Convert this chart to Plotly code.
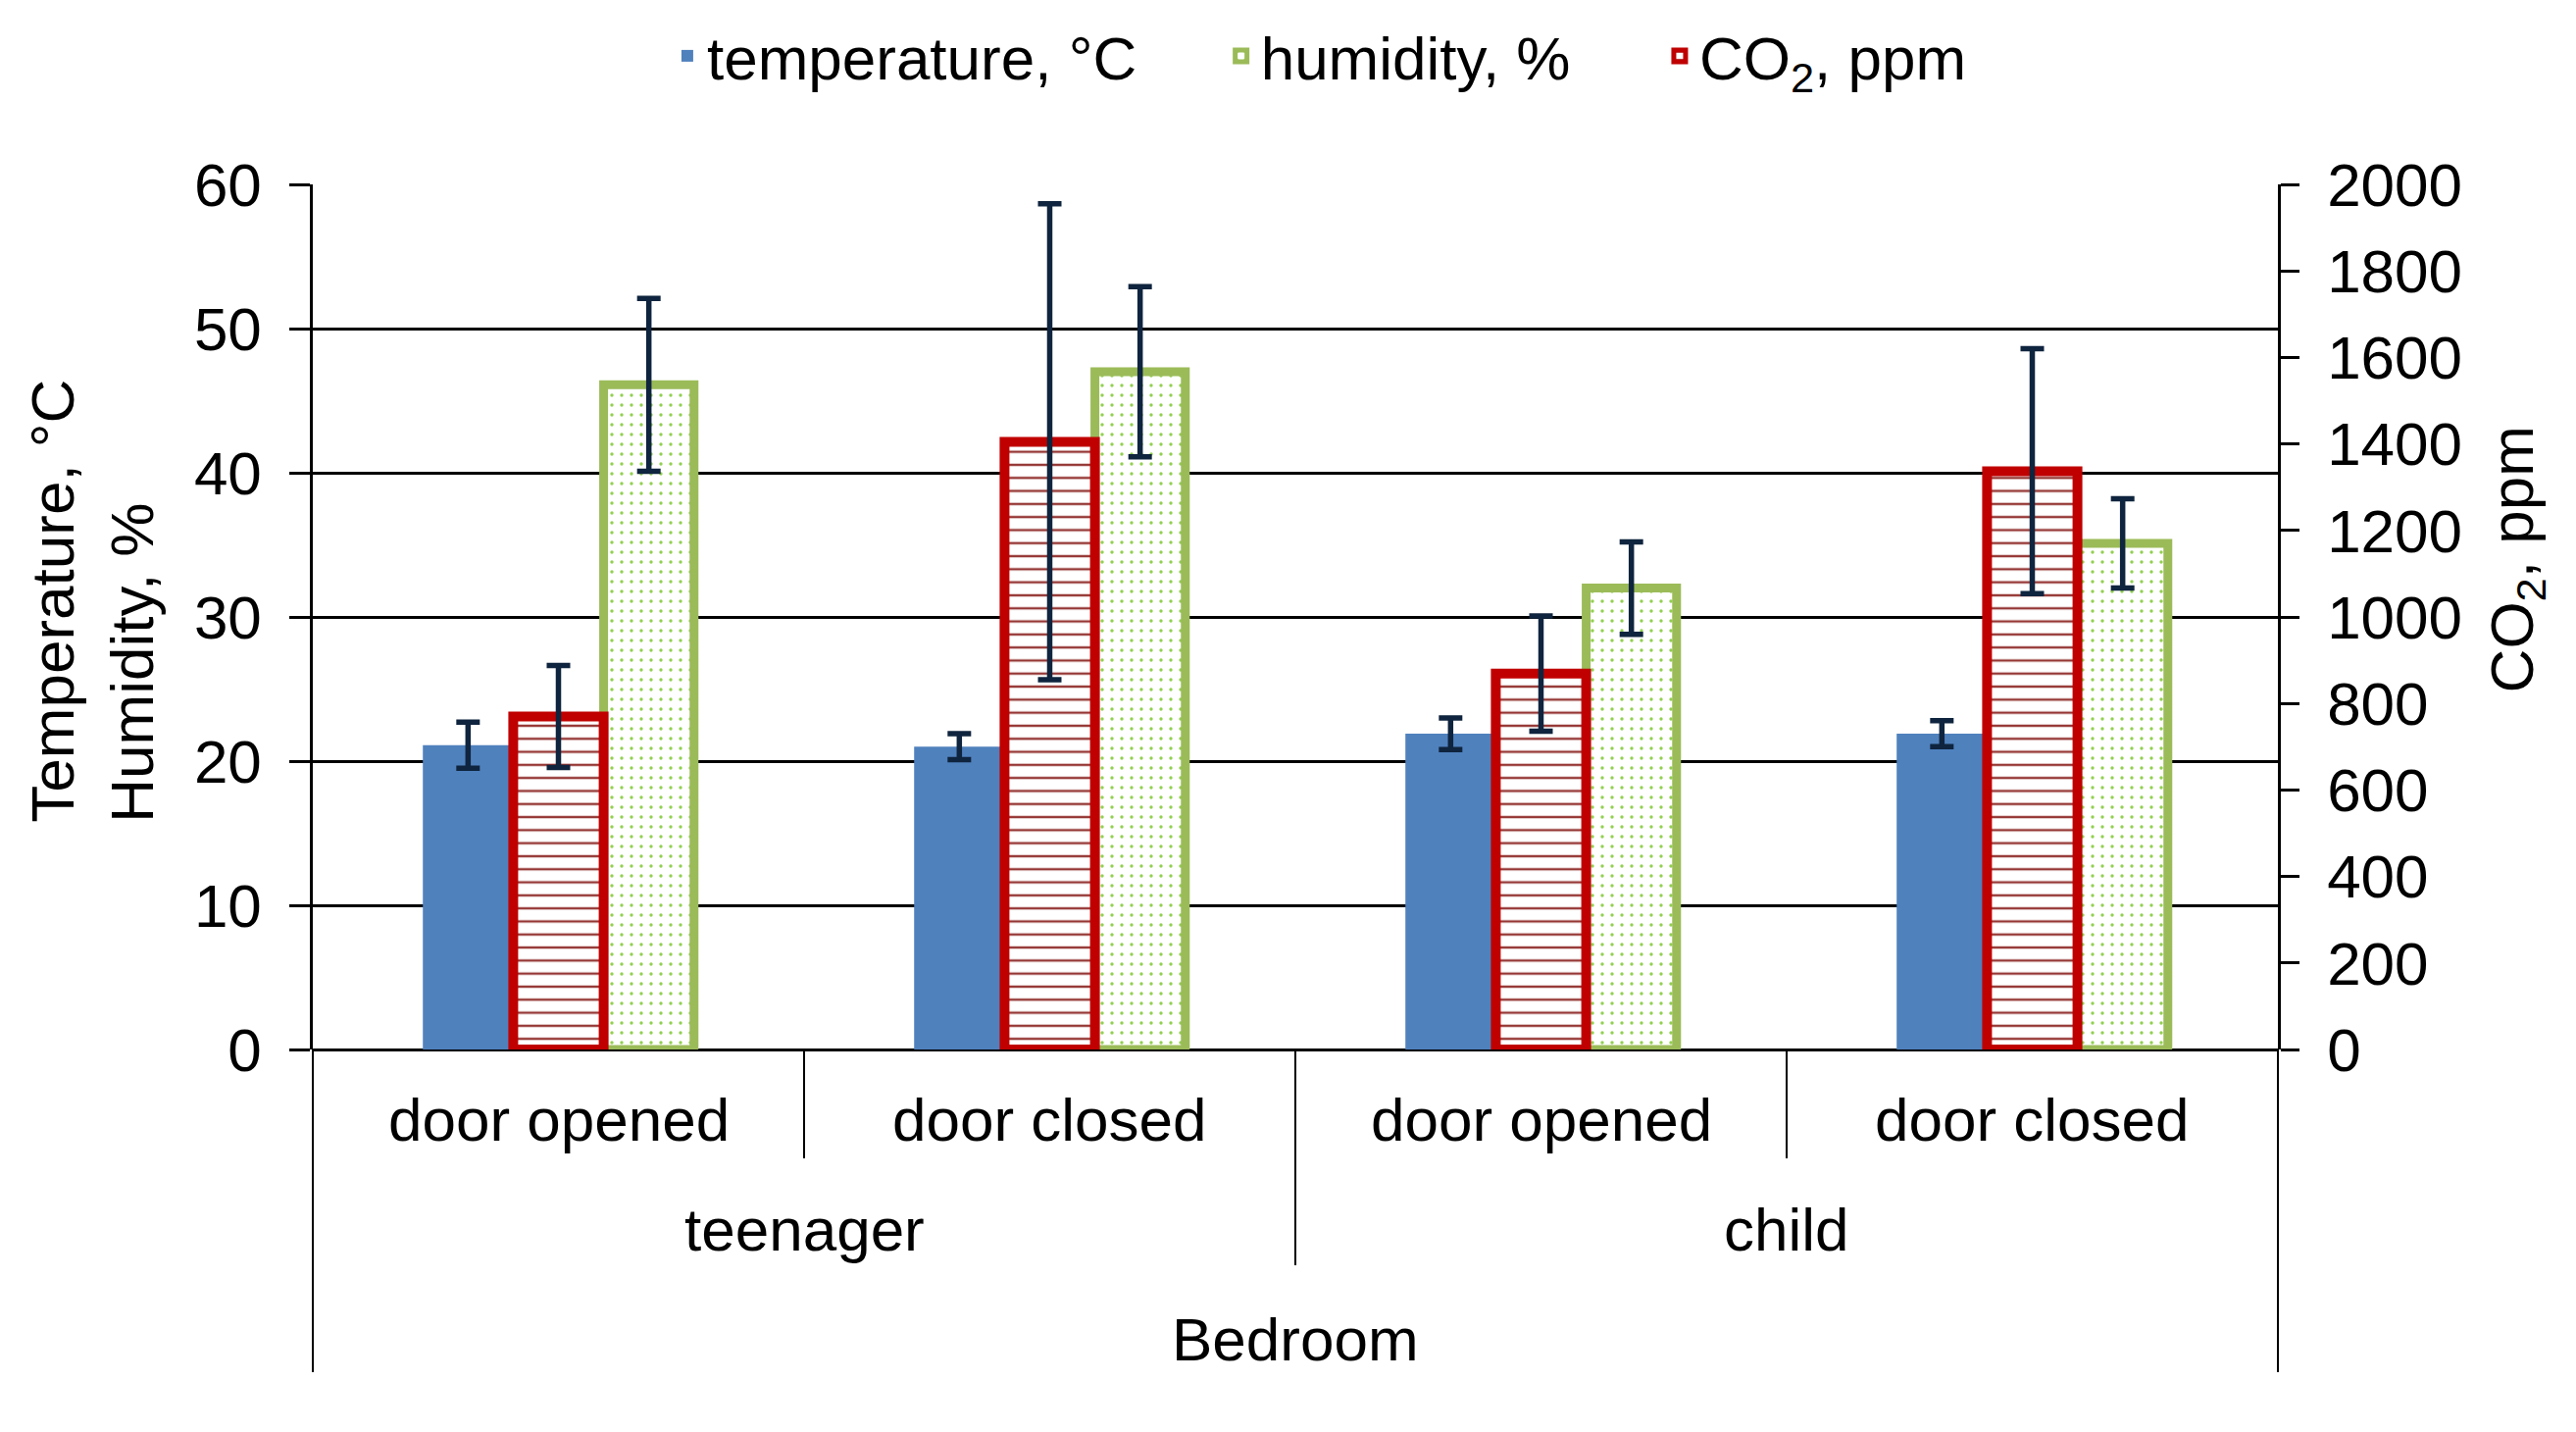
import plotly.graph_objects as go

# ---- data ----
groups = ["teenager", "teenager", "child", "child"]
doors = ["door opened", "door closed", "door opened", "door closed"]
outer_labels = ["teenager", "child"]
room_label = "Bedroom"

temperature = [21.1, 21.0, 21.9, 21.9]
temperature_err = [1.6, 0.9, 1.1, 0.9]
humidity = [46.1, 47.0, 32.0, 35.1]
humidity_err = [6.0, 5.9, 3.2, 3.1]
co2 = [770, 1405, 869, 1337]
co2_err = [118, 550, 133, 283]

left_ticks = [0, 10, 20, 30, 40, 50, 60]
right_ticks = [0, 200, 400, 600, 800, 1000, 1200, 1400, 1600, 1800, 2000]

FONT = "Liberation Sans, Arial, sans-serif"
FS = 62
ERRC = "#0F243E"
BW = 0.184
ERR_T = 5.5
ERR_W = 12

x = [groups, doors]

fig = go.Figure()
fig.add_trace(go.Bar(
    x=x, y=temperature, name="temperature, °C", legend="legend", showlegend=True,
    width=BW, offset=-1.5 * BW,
    marker=dict(color="#4F81BD", line=dict(width=0)),
    error_y=dict(type="data", array=temperature_err, color=ERRC, thickness=ERR_T, width=ERR_W),
    yaxis="y",
))
fig.add_trace(go.Bar(
    x=x, y=humidity, name="humidity, %", legend="legend2", showlegend=True,
    width=BW, offset=0.5 * BW,
    marker=dict(color="white", line=dict(color="#9BBB59", width=9),
                pattern=dict(shape=".", fgcolor="#92D050", bgcolor="white",
                             size=10, solidity=0.09, fillmode="replace")),
    error_y=dict(type="data", array=humidity_err, color=ERRC, thickness=ERR_T, width=ERR_W),
    yaxis="y",
))
fig.add_trace(go.Bar(
    x=x, y=co2, name="CO<sub>2</sub>, ppm", legend="legend3", showlegend=True,
    width=BW, offset=-0.5 * BW,
    marker=dict(color="white", line=dict(color="#C00000", width=10),
                pattern=dict(shape="-", fgcolor="#953735", bgcolor="white",
                             size=13.3, solidity=0.18, fillmode="replace")),
    error_y=dict(type="data", array=co2_err, color=ERRC, thickness=ERR_T, width=ERR_W),
    yaxis="y2",
))

annotations = []
n = len(doors)
for i, d in enumerate(doors):
    annotations.append(dict(text=d, x=(i + 0.5) / n, y=-0.0805, xref="paper", yref="paper",
                            showarrow=False, xanchor="center", yanchor="middle",
                            font=dict(family=FONT, size=FS, color="black")))
for j, g in enumerate(outer_labels):
    annotations.append(dict(text=g, x=(j + 0.5) / len(outer_labels), y=-0.2075, xref="paper", yref="paper",
                            showarrow=False, xanchor="center", yanchor="middle",
                            font=dict(family=FONT, size=FS, color="black")))
annotations.append(dict(text=room_label, x=0.5, y=-0.3345, xref="paper", yref="paper",
                        showarrow=False, xanchor="center", yanchor="middle",
                        font=dict(family=FONT, size=FS, color="black")))
annotations.append(dict(text="Temperature, °C<br>Humidity, %", x=-0.112, y=0.518,
                        xref="paper", yref="paper", showarrow=False, textangle=-90,
                        align="left", xanchor="center", yanchor="middle",
                        font=dict(family=FONT, size=FS, color="black")))
annotations.append(dict(text="CO<sub>2</sub>, ppm", x=1.121, y=0.567,
                        xref="paper", yref="paper", showarrow=False, textangle=-90,
                        xanchor="center", yanchor="middle",
                        font=dict(family=FONT, size=FS, color="black")))

line_style = dict(color="black", width=2)
shapes = []
for xs, y1 in [(0.25, -0.1259), (0.75, -0.1259), (0.5, -0.2494), (0.0, -0.373), (1.0, -0.373)]:
    shapes.append(dict(type="line", xref="paper", yref="paper", x0=xs, x1=xs, y0=0, y1=y1,
                       line=line_style))


def legend_at(xpos):
    return dict(orientation="h", xref="paper", x=xpos, xanchor="left",
                yref="container", y=0.966, yanchor="middle",
                font=dict(family=FONT, size=FS, color="black"),
                bgcolor="rgba(0,0,0,0)", visible=True)


fig.update_layout(
    width=2611, height=1444,
    margin=dict(l=311, r=296, t=180, b=382),
    paper_bgcolor="white", plot_bgcolor="white",
    barmode="overlay",
    showlegend=True,
    font=dict(family=FONT, size=FS, color="black"),
    legend=legend_at(0.1806),
    legend2=legend_at(0.4624),
    legend3=legend_at(0.6856),
    xaxis=dict(type="multicategory", showticklabels=False, ticks="", showgrid=False,
               showline=False, zeroline=False, range=[-0.5, 3.5], showdividers=False),
    yaxis=dict(range=[0, 60], tickvals=left_ticks, ticks="outside", ticklen=21, tickwidth=2.5,
               tickcolor="black", showgrid=True, gridcolor="black", gridwidth=2.5,
               showline=True, linecolor="black", linewidth=2.5, zeroline=True,
               zerolinecolor="black", zerolinewidth=2.5, ticklabelstandoff=16,
               automargin=False,
               tickfont=dict(family=FONT, size=FS, color="black")),
    yaxis2=dict(range=[0, 2000], tickvals=right_ticks, overlaying="y", side="right",
                ticks="outside", ticklen=19, tickwidth=2.5, tickcolor="black",
                showgrid=False, showline=True, linecolor="black", linewidth=2.5,
                zeroline=False, ticklabelstandoff=16, automargin=False,
                tickfont=dict(family=FONT, size=FS, color="black")),
    annotations=annotations,
    shapes=shapes,
)

fig.write_html("out.html")
